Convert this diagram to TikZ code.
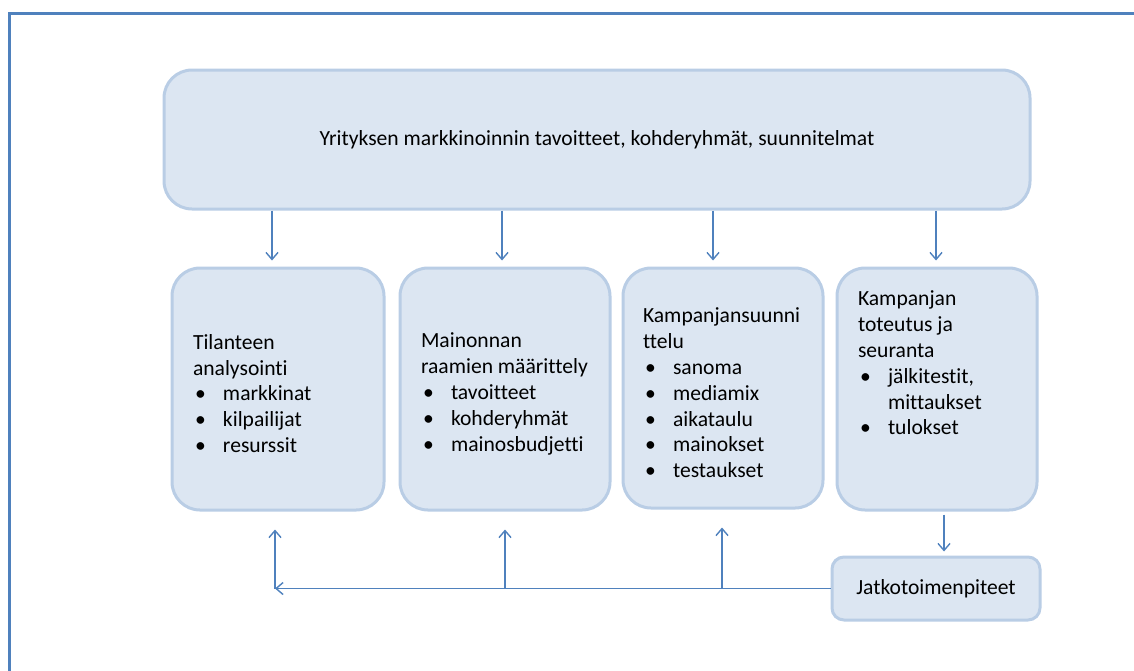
\documentclass[tikz,border=0pt]{standalone}
\usepackage{fontspec}
\setmainfont{Carlito}[Ligatures=NoCommon]
\usetikzlibrary{arrows.meta}

\definecolor{boxfill}{HTML}{DCE6F2}
\definecolor{boxline}{HTML}{B9CDE5}
\definecolor{linkblue}{HTML}{4F81BD}

% bullet item with a fixed hanging indent
\newcommand\bul[1]{\makebox[30pt][l]{\hspace{2pt}\textbullet}#1}

\begin{document}
\begin{tikzpicture}[x=1pt,y=-1pt,
  font=\fontsize{21.6}{25.8}\selectfont,
  panel/.style={draw=boxline, line width=3pt, fill=boxfill,
                rounded corners=28pt, inner sep=0pt},
  link/.style={draw=linkblue, line width=1.4pt,
               -{Straight Barb[length=7pt,width=12pt,line width=1.4pt]}},
]
\useasboundingbox (0,0) rectangle (1134,670);
\clip (0,0) rectangle (1134,670);

% outer frame
\draw[draw=linkblue, line width=2.5pt] (9.5,13.5) rectangle (1160,700);

% top panel
\node[panel, minimum width=866pt, minimum height=139pt] (goals) at (597,139.5)
  {Yrityksen markkinoinnin tavoitteet, kohderyhmät, suunnitelmat};

% four stage panels
\node[panel, minimum width=212pt, minimum height=242pt] (analysis) at (278,389)
  {\parbox[c][200pt][c]{170pt}{\raggedright\vspace*{9pt}
   Tilanteen\\analysointi\\\bul{markkinat}\\\bul{kilpailijat}\\\bul{resurssit}}};

\node[panel, minimum width=210pt, minimum height=242pt] (framing) at (505,389)
  {\parbox[c][200pt][c]{168pt}{\raggedright\vspace*{10pt}
   Mainonnan\\raamien~määrittely\\\bul{tavoitteet}\\\bul{kohderyhmät}\\\bul{mainosbudjetti}}};

\node[panel, minimum width=200pt, minimum height=240pt] (planning) at (723,388)
  {\parbox[c][200pt][c]{160pt}{\raggedright\vspace*{10pt}
   Kampanjansuunni\\ttelu\\\bul{sanoma}\\\bul{mediamix}\\\bul{aikataulu}\\\bul{mainokset}\\\bul{testaukset}}};

\node[panel, minimum width=200pt, minimum height=242pt] (execution) at (937,389)
  {\parbox[c][196pt][t]{158pt}{\raggedright
   Kampanjan\\toteutus~ja\\seuranta\\\bul{jälkitestit,}\\\hspace*{30pt}mittaukset\\\bul{tulokset}}};

% follow-up panel
\node[panel, rounded corners=12pt, minimum width=208pt, minimum height=63pt] (next) at (936,588.5)
  {Jatkotoimenpiteet};

% arrows from the top panel
\draw[link, shorten >=6pt] (goals.south -| 272,0) -- (analysis.north -| 272,0);
\draw[link, shorten >=6pt] (goals.south -| 502,0) -- (framing.north -| 502,0);
\draw[link, shorten >=6pt] (goals.south -| 713,0) -- (planning.north -| 713,0);
\draw[link, shorten >=6pt] (goals.south -| 936,0) -- (execution.north -| 936,0);

% execution to follow-up
\draw[link, shorten >=4pt, shorten <=3pt] (execution.south -| 944,0) -- (next.north -| 944,0);

% feedback line
\coordinate (corner) at (275,0 |- next.west);
\coordinate (tap2) at (505,0 |- next.west);
\coordinate (tap3) at (722,0 |- next.west);
\draw[link] (next.west) -- (corner);
\draw[link, shorten >=18pt] (corner) -- (analysis.south -| corner);
\draw[link, shorten >=18pt] (tap2) -- (framing.south -| tap2);
\draw[link, shorten >=18pt] (tap3) -- (planning.south -| tap3);
\end{tikzpicture}
\end{document}
